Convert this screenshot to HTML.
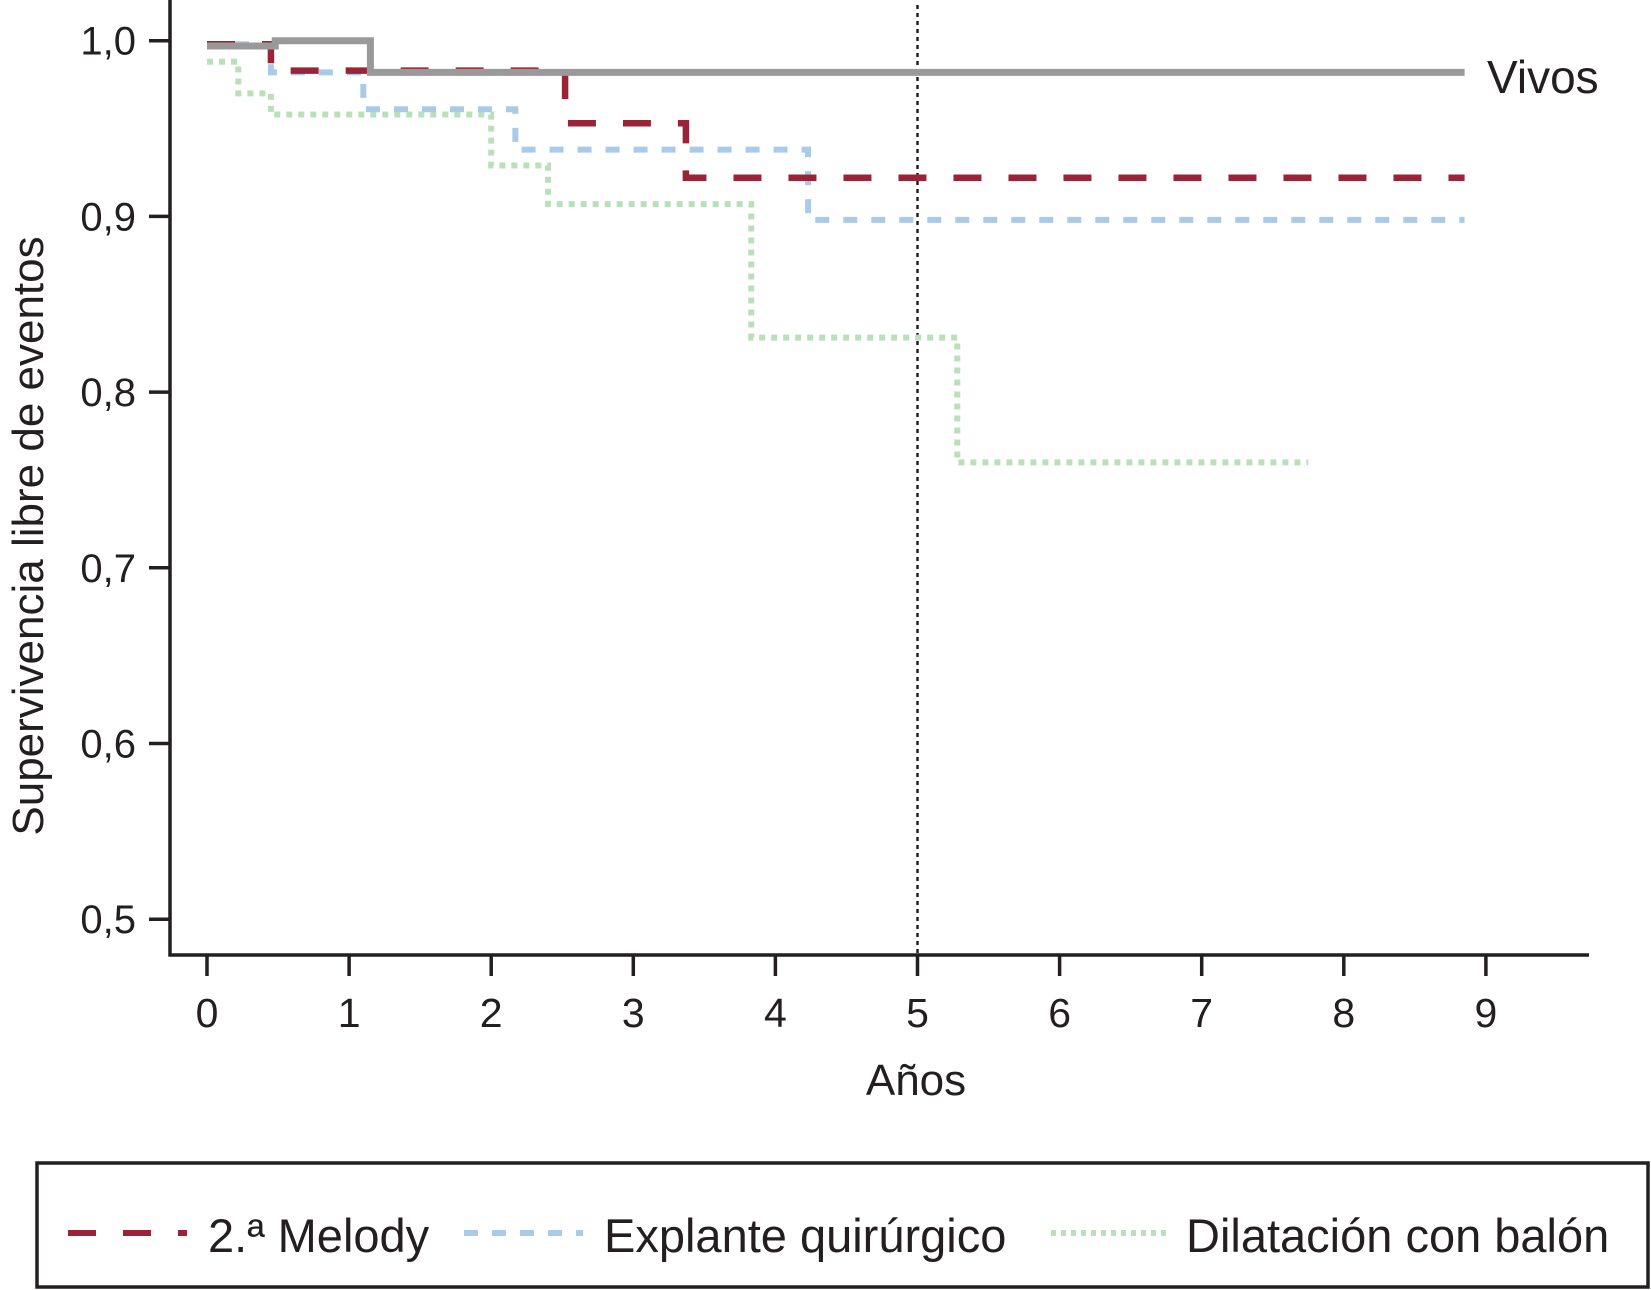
<!DOCTYPE html>
<html><head><meta charset="utf-8"><style>
body{margin:0;background:#fff;}
svg{display:block;font-family:"Liberation Sans",sans-serif;}
</style></head><body>
<svg id="chart" width="1651" height="1290"></svg>
<script>
const xTicks=[0,1,2,3,4,5,6,7,8,9];
const yTicks=[0.5,0.6,0.7,0.8,0.9,1.0];
const yTickLabels=["0,5","0,6","0,7","0,8","0,9","1,0"];
const vivosT=[0,0.48,1.15,8.85];
const vivosV=[0.997,1.0,0.982,0.982];
const melodyT=[0,0.45,2.52,3.37,8.85];
const melodyV=[0.998,0.983,0.953,0.922,0.922];
const explanteT=[0,0.45,1.1,2.17,4.23,8.85];
const explanteV=[0.998,0.982,0.961,0.938,0.898,0.898];
const dilatT=[0,0.22,0.45,2.0,2.4,3.83,5.28,7.75];
const dilatV=[0.988,0.97,0.958,0.929,0.907,0.831,0.760,0.760];
const refYear=5;

const X=t=>207+t*142.1;
const Y=v=>40.7+(1-v)*1757;
const NS="http://www.w3.org/2000/svg";
const svg=document.getElementById('chart');
function mk(tag,attrs,parent){const e=document.createElementNS(NS,tag);for(const k in attrs)e.setAttribute(k,attrs[k]);(parent||svg).appendChild(e);return e;}
function stepPath(T,V){let d=`M${X(T[0])},${Y(V[0])}`;for(let i=1;i<T.length;i++){d+=` H${X(T[i])} V${Y(V[i])}`;}return d;}

let ax=mk('path',{d:'M170,0 V955 H1589',stroke:'#231f20','stroke-width':3.5,fill:'none'});


xTicks.forEach(t=>{
  let l=mk('line',{x1:X(t),x2:X(t),y1:955,y2:976,stroke:'#231f20','stroke-width':3.5});
  
  
  let tx=mk('text',{x:X(t),y:1027,'font-size':41,'text-anchor':'middle',fill:'#231f20'});
  tx.textContent=t;
  
  
});
yTicks.forEach((v,i)=>{
  let l=mk('line',{x1:149,x2:170,y1:Y(v),y2:Y(v),stroke:'#231f20','stroke-width':3.5});
  
  
  let tx=mk('text',{x:136,y:Y(v)+14,'font-size':40,'text-anchor':'end',fill:'#231f20'});
  tx.textContent=yTickLabels[i];
  
  
});
let ref=mk('line',{x1:X(refYear),x2:X(refYear),y1:5,y2:955,stroke:'#231f20','stroke-width':2.5,'stroke-dasharray':'4 4'});



let s;
s=mk('path',{d:stepPath(dilatT,dilatV),stroke:'#b9e0b9','stroke-width':6,fill:'none','stroke-dasharray':'6 6'});


s=mk('path',{d:stepPath(explanteT,explanteV),stroke:'#a9cbe8','stroke-width':6,fill:'none','stroke-dasharray':'14 14'});


s=mk('path',{d:stepPath(melodyT,melodyV),stroke:'#9b2338','stroke-width':6.5,fill:'none','stroke-dasharray':'28 27'});


s=mk('path',{d:stepPath(vivosT,vivosV),stroke:'#999','stroke-width':7,fill:'none'});



let vl=mk('text',{x:1487,y:93,'font-size':46,fill:'#231f20'});
vl.textContent='Vivos';


let xt=mk('text',{x:916,y:1095,'font-size':44,'text-anchor':'middle',fill:'#231f20'});
xt.textContent='Años';


let yt=mk('text',{x:0,y:0,'font-size':44,'text-anchor':'middle',fill:'#231f20',transform:'translate(43,536) rotate(-90)'});
yt.textContent='Supervivencia libre de eventos';



let lg=mk('g',{});


mk('rect',{x:37,y:1163,width:1611,height:124,fill:'none',stroke:'#231f20','stroke-width':3.5},lg);
const legend=[["2.ª Melody",'#9b2338','28 27',68,208],["Explante quirúrgico",'#a9cbe8','14 14',464,604],["Dilatación con balón",'#b9e0b9','5 5',1051,1186]];
legend.forEach(([label,c,da,x1,tx])=>{
  let l=mk('line',{x1:x1,x2:x1+119,y1:1233,y2:1233,stroke:c,'stroke-width':6,'stroke-dasharray':da},lg);
  
  
  let t=mk('text',{x:tx,y:1252,'font-size':47,fill:'#231f20'},lg);
  t.textContent=label;
  
  
});
</script>
</body></html>
